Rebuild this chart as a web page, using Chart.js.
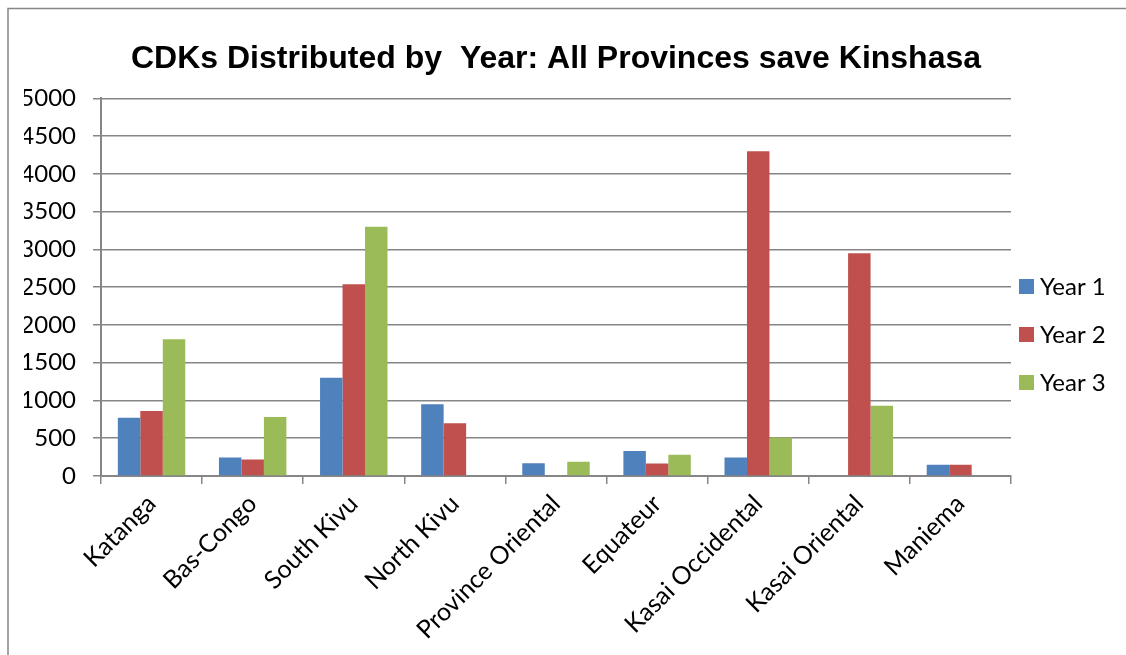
<!DOCTYPE html>
<html>
<head>
<meta charset="utf-8">
<title>CDKs Distributed by Year</title>
<script src="https://cdn.jsdelivr.net/npm/chart.js@4.4.1/dist/chart.umd.min.js"></script>
<style>
    html, body { margin: 0; padding: 0; background: #ffffff; }
    #wrap { width: 1126px; height: 655px; }
</style>
</head>
<body>
<div id="wrap"><canvas id="chart" width="1126" height="655"></canvas></div>
<script>
const provinces = ['Katanga', 'Bas-Congo', 'South Kivu', 'North Kivu', 'Province Oriental',
    'Equateur', 'Kasai Occidental', 'Kasai Oriental', 'Maniema'];
const year1 = [770, 245, 1300, 950, 170, 330, 245, null, 150];
const year2 = [860, 220, 2540, 700, null, 165, 4300, 2950, 150];
const year3 = [1810, 780, 3300, null, 190, 280, 510, 930, null];
const seriesNames = ['Year 1', 'Year 2', 'Year 3'];
const yTicks = [0, 500, 1000, 1500, 2000, 2500, 3000, 3500, 4000, 4500, 5000];

const colors = ['#4F81BD', '#C0504D', '#9BBB59'];
const gridGrey = '#868686';
const labelFont = 'Lato';
const labelSize = 24;

// grey frame round the whole chart, like the Excel chart border
const framePlugin = {
    id: 'frame',
    beforeDraw(chart) {
        const ctx = chart.ctx;
        ctx.save();
        ctx.fillStyle = '#ffffff';
        ctx.fillRect(0, 0, chart.width, chart.height);
        ctx.strokeStyle = gridGrey;
        ctx.lineWidth = 1.5;
        ctx.strokeRect(8, 8.5, chart.width + 20, chart.height + 20);
        ctx.restore();
    }
};

// legend to the right of the plot, centred on the whole chart
const sideLegend = {
    id: 'sideLegend',
    afterDraw(chart) {
        const ctx = chart.ctx;
        const sets = chart.data.datasets;
        const x = chart.chartArea.right + 8;
        const mid = 334;
        const step = 48;
        ctx.save();
        ctx.font = labelSize + 'px ' + labelFont;
        ctx.textBaseline = 'middle';
        ctx.textAlign = 'left';
        sets.forEach((ds, i) => {
            const y = mid + (i - (sets.length - 1) / 2) * step;
            ctx.fillStyle = ds.backgroundColor;
            ctx.fillRect(x, y - 7, 15, 15);
            ctx.fillStyle = '#000000';
            ctx.fillText(ds.label, x + 21, y + 1);
        });
        ctx.restore();
    }
};

const datasets = [year1, year2, year3].map((vals, i) => ({
    label: seriesNames[i],
    data: vals,
    backgroundColor: colors[i],
    borderWidth: 0,
    categoryPercentage: 0.667,
    barPercentage: 1.0
}));

new Chart(document.getElementById('chart'), {
    type: 'bar',
    data: { labels: provinces, datasets: datasets },
    options: {
        responsive: false,
        animation: false,
        layout: { padding: { left: 24, right: 115, top: 0, bottom: 0 } },
        plugins: {
            legend: { display: false },
            tooltip: { enabled: false },
            title: {
                display: true,
                fullSize: false,
                text: 'CDKs Distributed by  Year: All Provinces save Kinshasa',
                color: '#000000',
                font: { family: 'Liberation Sans', size: 32, weight: 'bold', lineHeight: 1.2 },
                padding: { top: 40, bottom: 20 }
            }
        },
        scales: {
            x: {
                afterFit(scale) { scale.height = 179; },
                grid: {
                    display: true,
                    drawOnChartArea: false,
                    drawTicks: true,
                    tickLength: 8,
                    color: gridGrey,
                    lineWidth: 1.5,
                    offset: true
                },
                border: { color: gridGrey, width: 2 },
                ticks: {
                    color: '#000000',
                    font: { family: labelFont, size: 25 },
                    minRotation: 45,
                    maxRotation: 45,
                    padding: 5,
                    autoSkip: false
                }
            },
            y: {
                min: 0,
                max: 5000,
                afterFit(scale) { scale.width = 77; },
                afterBuildTicks(scale) { scale.ticks = yTicks.map(v => ({ value: v })); },
                grid: {
                    color: gridGrey,
                    lineWidth: 1.5,
                    tickLength: 8
                },
                border: { color: gridGrey, width: 2 },
                ticks: {
                    color: '#000000',
                    font: { family: labelFont, size: labelSize },
                    padding: 17,
                    callback: v => String(v)
                }
            }
        }
    },
    plugins: [framePlugin, sideLegend]
});
</script>
</body>
</html>
